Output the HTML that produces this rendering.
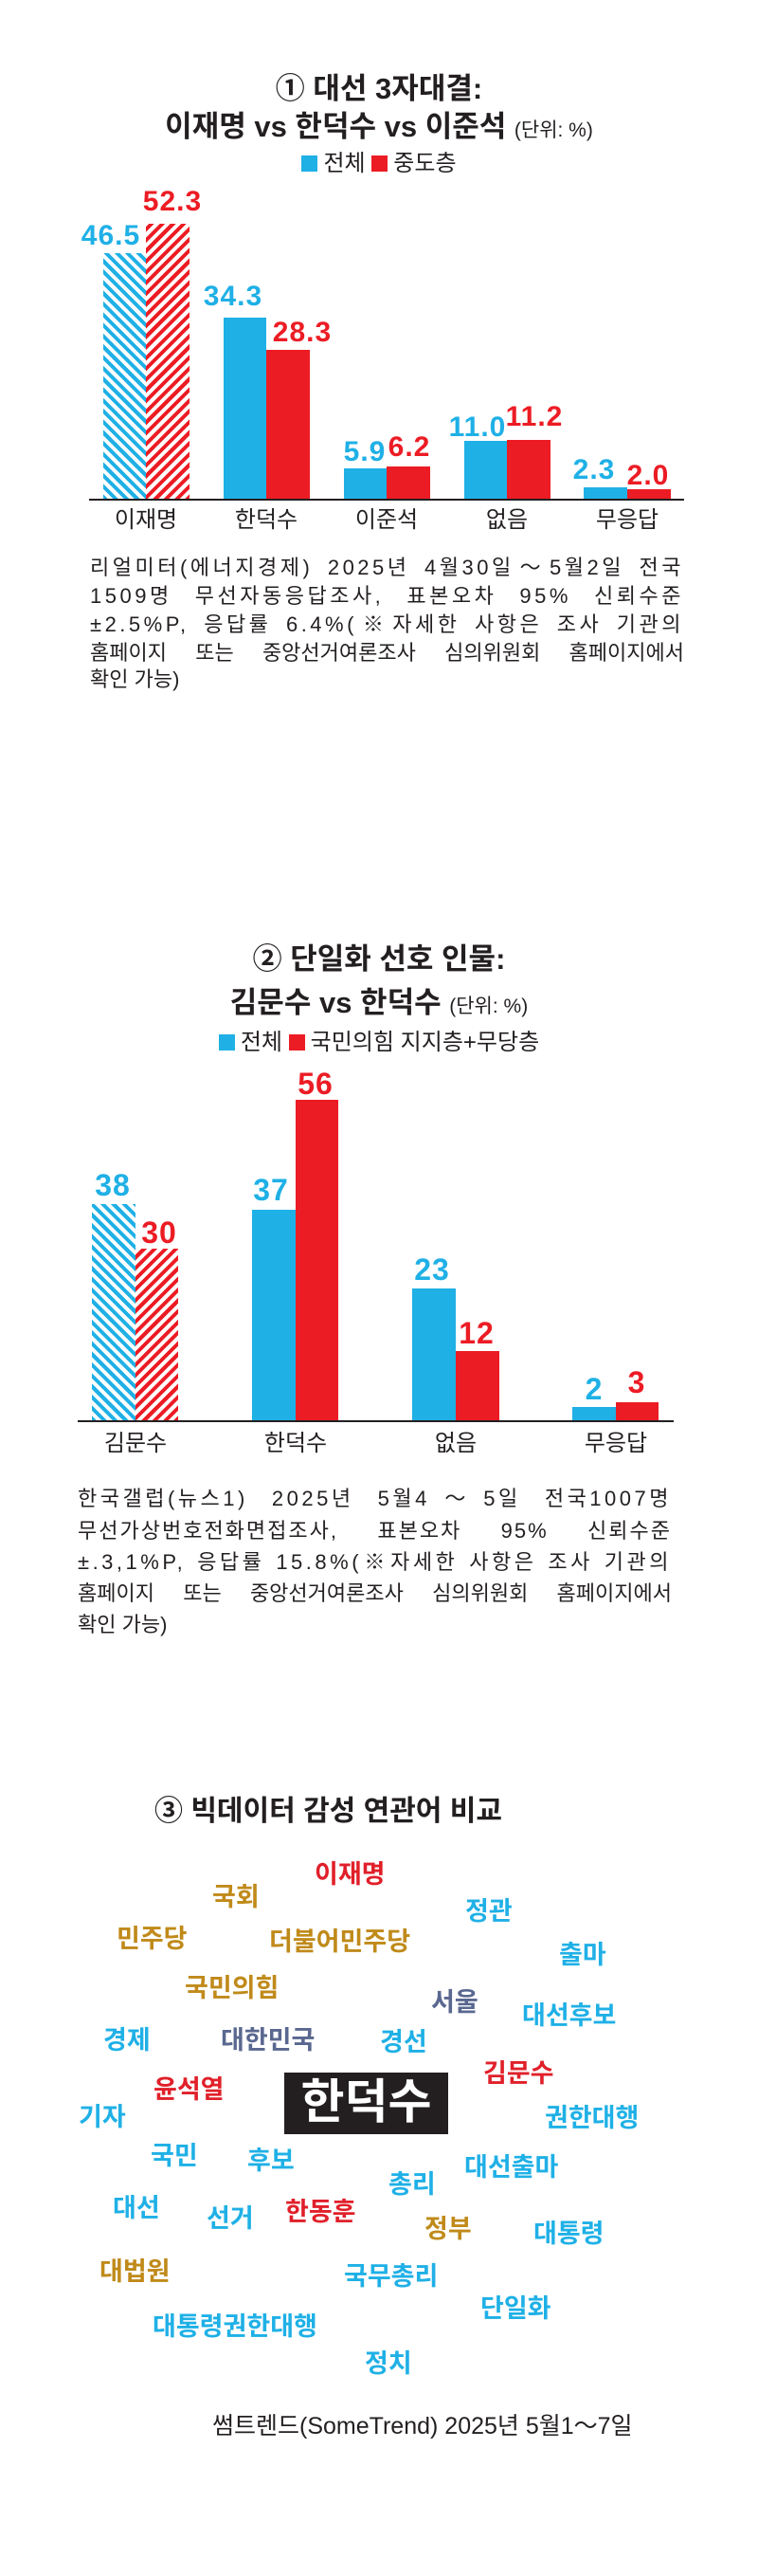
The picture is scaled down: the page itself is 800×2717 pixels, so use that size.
<!DOCTYPE html>
<html><head><meta charset="utf-8">
<style>
*{margin:0;padding:0;box-sizing:border-box}
body{width:800px;height:2717px;background:#fff;position:relative;overflow:hidden;font-family:"Liberation Sans","Noto Sans CJK KR",sans-serif;color:#231f20}
.a{position:absolute;white-space:nowrap;line-height:1}
.t{font-weight:700;font-size:31px;text-align:center;left:0;width:800px}
.sm{font-weight:400;font-size:21px}
.lg{font-size:24px}
.sq{display:inline-block;width:17px;height:17px;vertical-align:-1px;margin-right:6px}
.b{position:absolute}
.bl{background:#1fb0e6}.rd{background:#ec1c24}
.hb{background:repeating-linear-gradient(45deg,#1fb0e6 0 4px,#fff 4px 8px)}
.hr{background:repeating-linear-gradient(-45deg,#ec1c24 0 4px,#fff 4px 8px)}
.v{position:absolute;font-weight:700;font-size:30px;line-height:1;width:90px;margin-left:-45px;text-align:center;letter-spacing:1px}
.vb{color:#1fb0e6}.vr{color:#ec1c24}
.ax{position:absolute;height:2px;background:#231f20}
.c{position:absolute;font-size:24px;width:120px;margin-left:-60px;text-align:center;line-height:1}
.n{position:absolute;font-size:22px;letter-spacing:3.5px;line-height:1;text-align:justify;text-align-last:justify;white-space:nowrap}
.w{position:absolute;font-weight:700;font-size:27px;line-height:1;white-space:nowrap}
.W{color:#1fb0e6}.R{color:#e0202a}.G{color:#c08a1a}.S{color:#5a6890}
</style></head><body>

<!-- chart 1 -->
<div class="a t" style="top:78px">① 대선 3자대결:</div>
<div class="a t" style="top:118px">이재명 vs 한덕수 vs 이준석 <span class="sm">(단위: %)</span></div>
<div class="a lg" style="top:161px;left:0;width:800px;text-align:center"><span class="sq bl"></span>전체 <span class="sq rd"></span>중도층</div>

<div class="b hb" style="left:109px;top:267px;width:45px;height:260px"></div>
<div class="b hr" style="left:154px;top:236px;width:46px;height:291px"></div>
<div class="b bl" style="left:236px;top:335px;width:45px;height:192px"></div>
<div class="b rd" style="left:281px;top:369px;width:46px;height:158px"></div>
<div class="b bl" style="left:363px;top:494px;width:45px;height:33px"></div>
<div class="b rd" style="left:408px;top:492px;width:46px;height:35px"></div>
<div class="b bl" style="left:490px;top:465px;width:45px;height:62px"></div>
<div class="b rd" style="left:535px;top:464px;width:46px;height:63px"></div>
<div class="b bl" style="left:616px;top:514px;width:46px;height:13px"></div>
<div class="b rd" style="left:662px;top:516px;width:46px;height:11px"></div>
<div class="ax" style="left:94px;top:526px;width:628px"></div>

<div class="v vb" style="left:117px;top:234px">46.5</div>
<div class="v vr" style="left:182px;top:198px">52.3</div>
<div class="v vb" style="left:246px;top:298px">34.3</div>
<div class="v vr" style="left:319px;top:336px">28.3</div>
<div class="v vb" style="left:385px;top:462px">5.9</div>
<div class="v vr" style="left:432px;top:457px">6.2</div>
<div class="v vb" style="left:504px;top:436px">11.0</div>
<div class="v vr" style="left:564px;top:425px">11.2</div>
<div class="v vb" style="left:627px;top:481px">2.3</div>
<div class="v vr" style="left:684px;top:487px">2.0</div>

<div class="c" style="left:154px;top:537px">이재명</div>
<div class="c" style="left:281px;top:537px">한덕수</div>
<div class="c" style="left:408px;top:537px">이준석</div>
<div class="c" style="left:535px;top:537px">없음</div>
<div class="c" style="left:662px;top:537px">무응답</div>

<div class="n" style="left:95px;width:627px;top:588px">리얼미터(에너지경제) 2025년 4월30일～5월2일 전국</div>
<div class="n" style="left:95px;width:627px;top:618px">1509명 무선자동응답조사, 표본오차 95% 신뢰수준</div>
<div class="n" style="left:95px;width:627px;top:648px">±2.5%P, 응답률 6.4%(※자세한 사항은 조사 기관의</div>
<div class="n" style="left:95px;width:627px;top:678px;letter-spacing:0">홈페이지 또는 중앙선거여론조사 심의위원회 홈페이지에서</div>
<div class="a" style="left:95px;top:706px;font-size:22px">확인 가능)</div>

<!-- chart 2 -->
<div class="a t" style="top:996px">② 단일화 선호 인물:</div>
<div class="a t" style="top:1042px">김문수 vs 한덕수 <span class="sm">(단위: %)</span></div>
<div class="a lg" style="top:1088px;left:0;width:800px;text-align:center"><span class="sq bl"></span>전체 <span class="sq rd"></span>국민의힘 지지층+무당층</div>

<div class="b hb" style="left:97px;top:1270px;width:46px;height:229px"></div>
<div class="b hr" style="left:143px;top:1317px;width:45px;height:182px"></div>
<div class="b bl" style="left:266px;top:1276px;width:46px;height:223px"></div>
<div class="b rd" style="left:312px;top:1160px;width:45px;height:339px"></div>
<div class="b bl" style="left:435px;top:1359px;width:46px;height:140px"></div>
<div class="b rd" style="left:481px;top:1425px;width:46px;height:74px"></div>
<div class="b bl" style="left:604px;top:1484px;width:46px;height:15px"></div>
<div class="b rd" style="left:650px;top:1479px;width:45px;height:20px"></div>
<div class="ax" style="left:82px;top:1498px;width:629px"></div>

<div class="v vb" style="left:119px;top:1234px;font-size:32px">38</div>
<div class="v vr" style="left:168px;top:1284px;font-size:32px">30</div>
<div class="v vb" style="left:286px;top:1239px;font-size:32px">37</div>
<div class="v vr" style="left:333px;top:1127px;font-size:32px">56</div>
<div class="v vb" style="left:456px;top:1323px;font-size:32px">23</div>
<div class="v vr" style="left:503px;top:1390px;font-size:32px">12</div>
<div class="v vb" style="left:627px;top:1449px;font-size:32px">2</div>
<div class="v vr" style="left:672px;top:1442px;font-size:32px">3</div>

<div class="c" style="left:143px;top:1511px">김문수</div>
<div class="c" style="left:312px;top:1511px">한덕수</div>
<div class="c" style="left:481px;top:1511px">없음</div>
<div class="c" style="left:650px;top:1511px">무응답</div>

<div class="n" style="left:82px;width:627px;top:1570px">한국갤럽(뉴스1) 2025년 5월4～5일 전국1007명</div>
<div class="n" style="left:82px;width:627px;top:1604px;letter-spacing:2px">무선가상번호전화면접조사, 표본오차 95% 신뢰수준</div>
<div class="n" style="left:82px;width:627px;top:1637px">±.3,1%P, 응답률 15.8%(※자세한 사항은 조사 기관의</div>
<div class="n" style="left:82px;width:627px;top:1670px;letter-spacing:0">홈페이지 또는 중앙선거여론조사 심의위원회 홈페이지에서</div>
<div class="a" style="left:82px;top:1703px;font-size:22px">확인 가능)</div>

<!-- chart 3 -->
<div class="a" style="left:163px;top:1896px;font-size:30px;font-weight:700">③ 빅데이터 감성 연관어 비교</div>

<div class="w R" style="left:332px;top:1964px">이재명</div>
<div class="w G" style="left:224px;top:1988px">국회</div>
<div class="w W" style="left:491px;top:2003px">정관</div>
<div class="w G" style="left:123px;top:2032px">민주당</div>
<div class="w G" style="left:284px;top:2035px">더불어민주당</div>
<div class="w W" style="left:590px;top:2049px">출마</div>
<div class="w G" style="left:195px;top:2084px">국민의힘</div>
<div class="w S" style="left:455px;top:2099px">서울</div>
<div class="w W" style="left:551px;top:2113px">대선후보</div>
<div class="w W" style="left:109px;top:2139px">경제</div>
<div class="w S" style="left:233px;top:2139px">대한민국</div>
<div class="w W" style="left:401px;top:2141px">경선</div>
<div class="w R" style="left:510px;top:2174px">김문수</div>
<div class="b" style="left:300px;top:2186px;width:173px;height:65px;background:#231f20"></div>
<div class="a" style="left:300px;top:2192px;width:173px;text-align:center;color:#fff;font-weight:700;font-size:50px">한덕수</div>
<div class="w R" style="left:162px;top:2191px">윤석열</div>
<div class="w W" style="left:83px;top:2220px">기자</div>
<div class="w W" style="left:575px;top:2221px">권한대행</div>
<div class="w W" style="left:159px;top:2261px">국민</div>
<div class="w W" style="left:261px;top:2266px">후보</div>
<div class="w W" style="left:490px;top:2273px">대선출마</div>
<div class="w W" style="left:410px;top:2291px">총리</div>
<div class="w W" style="left:119px;top:2316px">대선</div>
<div class="w W" style="left:218px;top:2327px">선거</div>
<div class="w R" style="left:301px;top:2320px">한동훈</div>
<div class="w G" style="left:448px;top:2338px">정부</div>
<div class="w W" style="left:563px;top:2343px">대통령</div>
<div class="w G" style="left:105px;top:2383px">대법원</div>
<div class="w W" style="left:363px;top:2388px">국무총리</div>
<div class="w W" style="left:507px;top:2422px">단일화</div>
<div class="w W" style="left:161px;top:2441px">대통령권한대행</div>
<div class="w W" style="left:385px;top:2480px">정치</div>

<div class="a" style="left:224px;top:2547px;font-size:25px">썸트렌드(SomeTrend) 2025년 5월1～7일</div>
</body></html>
